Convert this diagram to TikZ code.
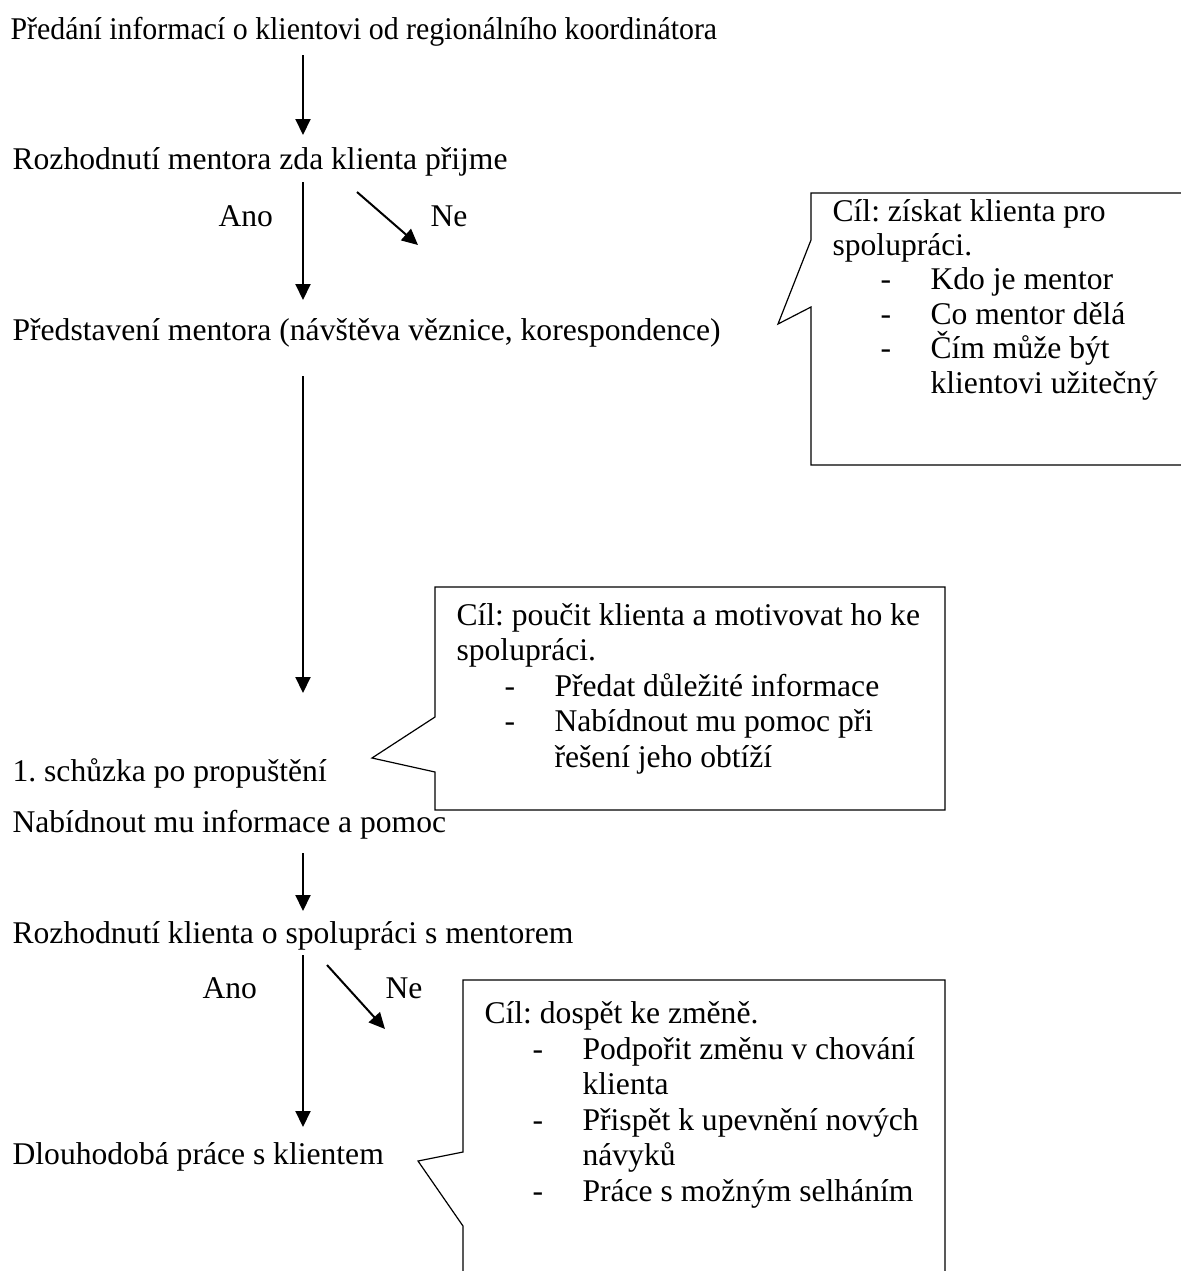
\documentclass[tikz,border=0pt]{standalone}
\usepackage{fontspec}
\setmainfont{Liberation Serif}
\usetikzlibrary{arrows.meta}
\frenchspacing

\newcommand{\goalitem}[1]{\hspace*{24pt}\makebox[25pt][l]{-}#1}
\newcommand{\goalcont}[1]{\hspace*{49pt}#1}

\begin{document}
\begin{tikzpicture}[x=0.5pt,y=-0.5pt,
                    >={Triangle[length=8pt,width=7.5pt]},
                    semithick]

  \tikzstyle{every node}=[inner sep=0pt,anchor=base west,
                          font=\fontsize{15.8pt}{17.75pt}\selectfont]
  \tikzstyle{goal}=[align=left]
  \tikzstyle{flow}=[->,line width=1pt]
  \tikzstyle{bubble}=[line width=0.6pt,line join=miter]

  \useasboundingbox (0,0) rectangle (1181,1271);

  % main steps
  \node (PRED) at (10,39)   {\scalebox{0.945}[1]{Předání informací o klientovi od regionálního koordinátora}};
  \node (ROZM) at (12,169)  {Rozhodnutí mentora zda klienta přijme};
  \node (PRST) at (12,340)  {Představení mentora (návštěva věznice, korespondence)};
  \node (SCHZ) at (12,781)  {1. schůzka po propuštění};
  \node (NABI) at (12,832)  {Nabídnout mu informace a pomoc};
  \node (ROZK) at (12,943)  {Rozhodnutí klienta o spolupráci s mentorem};
  \node (DLOU) at (12,1164) {Dlouhodobá práce s klientem};

  \node (ANO1) at (218,226) {Ano};
  \node (NE1)  at (430,226) {Ne};
  \node (ANO2) at (202,998) {Ano};
  \node (NE2)  at (385,998) {Ne};

  % arrow ends
  \coordinate (PRED-out) at (303,55);   \coordinate (ROZM-in) at (303,135);
  \coordinate (ROZM-out) at (303,182);  \coordinate (PRST-in) at (303,300);
  \coordinate (ROZM-ne)  at (357,192);  \coordinate (NE1-end) at (418,245);
  \coordinate (PRST-out) at (303,376);  \coordinate (SCHZ-in) at (303,693);
  \coordinate (NABI-out) at (303,853);  \coordinate (ROZK-in) at (303,911);
  \coordinate (ROZK-out) at (303,955);  \coordinate (DLOU-in) at (303,1127);
  \coordinate (ROZK-ne)  at (327,965);  \coordinate (NE2-end) at (385,1029);

  \draw[flow] (PRED-out) -- (ROZM-in);
  \draw[flow] (ROZM-out) -- (PRST-in);
  \draw[flow] (ROZM-ne)  -- (NE1-end);
  \draw[flow] (PRST-out) -- (SCHZ-in);
  \draw[flow] (NABI-out) -- (ROZK-in);
  \draw[flow] (ROZK-out) -- (DLOU-in);
  \draw[flow] (ROZK-ne)  -- (NE2-end);

  % callouts
  \draw[bubble] (1181,193) -- (811,193) -- (811,240) -- (778,324)
                -- (811,307) -- (811,465) -- (1181,465);
  \draw[bubble] (435,587) -- (945,587) -- (945,810) -- (435,810)
                -- (435,772) -- (372,758) -- (435,717) -- cycle;
  \draw[bubble] (463,1271) -- (463,1226) -- (418,1161) -- (463,1152)
                -- (463,980) -- (945,980) -- (945,1271);

  % base anchor of a multi-line node sits on its last line
  \node[goal,font=\fontsize{15.8pt}{17.2pt}\selectfont] (GOAL1) at (832,393)
    {Cíl: získat klienta pro\\
    spolupráci.\\ \goalitem{Kdo je mentor}\\ \goalitem{Co mentor dělá}\\
    \goalitem{Čím může být}\\ \goalcont{klientovi užitečný}};
  \node[goal] (GOAL2) at (456,767) {Cíl: poučit klienta a motivovat ho ke\\
    spolupráci.\\ \goalitem{Předat důležité informace}\\
    \goalitem{Nabídnout mu pomoc při}\\ \goalcont{řešení jeho obtíží}};
  \node[goal] (GOAL3) at (484,1201) {Cíl: dospět ke změně.\\
    \goalitem{Podpořit změnu v chování}\\ \goalcont{klienta}\\
    \goalitem{Přispět k upevnění nových}\\ \goalcont{návyků}\\
    \goalitem{Práce s možným selháním}};
\end{tikzpicture}
\end{document}
